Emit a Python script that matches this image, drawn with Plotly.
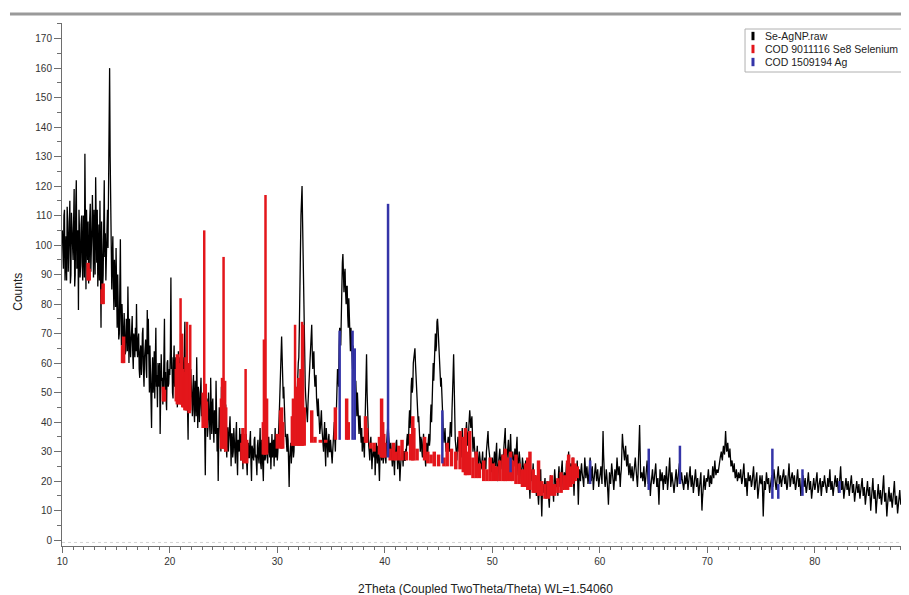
import plotly.graph_objects as go

# ---- scan parameters: two interleaved reading grids (0.1 deg apart, offset 0.05 deg) ----
scan_start = 10.0
scan_step = 0.1
half_offset = 0.05

counts_10s = [
    105, 92, 112, 96, 88, 108, 99, 115, 90, 102,
    95, 119, 90, 122, 97, 78, 104, 93, 110, 88,
    100, 131, 85, 98, 108, 92, 114, 96, 117, 89,
    101, 123, 94, 86, 107, 115, 72, 98, 90, 122,
    104, 95, 112, 124, 160, 105, 85, 103, 78, 88,
    99, 72, 80, 70, 102, 66, 75, 62, 70, 64,
    74, 86, 60, 70, 67, 76, 58, 68, 72, 80,
    62, 70, 55, 66, 60, 72, 52, 64, 58, 78,
    75, 50, 58, 38, 62, 54, 48, 72, 56, 60,
    52, 36, 63, 55, 50, 75, 57, 44, 61, 53]
counts_20s = [
    56, 89, 62, 48, 66, 55, 60, 45, 64, 52,
    58, 47, 62, 53, 74, 44, 55, 34, 60, 50,
    52, 42, 56, 40, 48, 62, 38, 50, 44, 55,
    46, 38, 52, 22, 44, 35, 50, 40, 55, 36,
    48, 33, 42, 54, 30, 20, 45, 38, 52, 34,
    40, 30, 46, 28, 38, 33, 42, 25, 36, 30,
    34, 26, 40, 22, 32, 38, 27, 35, 24, 33,
    30, 36, 22, 33, 28, 37, 20, 31, 27, 35,
    29, 22, 34, 26, 38, 24, 30, 20, 33, 28,
    31, 26, 35, 28, 24, 36, 30, 25, 38, 29]
counts_30s = [
    27, 33, 45, 60, 69, 55, 52, 40, 36, 30,
    34, 18, 30, 26, 32, 28, 38, 35, 45, 55,
    62, 80, 110, 120, 95, 70, 52, 45, 40, 50,
    60, 68, 73, 58, 64, 52, 56, 45, 48, 40,
    38, 44, 35, 30, 40, 25, 33, 28, 36, 30,
    32, 26, 34, 40, 30, 45, 58, 52, 72, 66,
    88, 97, 84, 92, 80, 86, 72, 76, 64, 68,
    58, 62, 48, 54, 42, 46, 36, 42, 33, 30,
    35, 28, 45, 63, 40, 32, 27, 35, 24, 30,
    28, 22, 33, 26, 30, 20, 31, 27, 33, 28]
counts_40s = [
    30, 26, 35, 40, 33, 28, 30, 25, 32, 22,
    29, 34, 24, 30, 20, 27, 33, 25, 30, 27,
    30, 36, 33, 44, 42, 55, 52, 62, 65, 55,
    50, 40, 38, 30, 34, 28, 36, 30, 25, 33,
    30, 36, 34, 46, 50, 60, 58, 70, 66, 75,
    68, 62, 52, 48, 38, 33, 38, 30, 28, 35,
    30, 40, 35, 48, 63, 38, 32, 27, 35, 30,
    33, 28, 38, 30, 25, 35, 40, 32, 37, 44,
    38, 42, 30, 35, 28, 24, 32, 22, 30, 26,
    25, 30, 21, 28, 24, 33, 37, 30, 27, 23]
counts_50s = [
    28, 22, 30, 25, 33, 20, 27, 31, 24, 29,
    26, 32, 38, 24, 29, 34, 22, 36, 27, 30,
    25, 31, 28, 35, 22, 30, 26, 20, 28, 24,
    21, 27, 18, 25, 22, 14, 24, 20, 26, 17,
    22, 15, 20, 12, 18, 24, 8, 19, 16, 21,
    14, 20, 17, 11, 22, 16, 19, 13, 24, 18,
    20, 15, 25, 18, 22, 27, 17, 23, 20, 26,
    22, 30, 20, 26, 24, 28, 15, 25, 22, 27,
    12, 24, 20, 26, 22, 18, 28, 21, 25, 19,
    23, 28, 20, 25, 17, 22, 26, 20, 24, 18]
counts_60s = [
    21, 25, 19, 37, 22, 18, 24, 20, 12, 23,
    19, 26, 21, 17, 24, 20, 28, 22, 25, 18,
    24, 36, 30, 27, 32, 25, 29, 22, 26, 21,
    25, 20, 24, 28, 22, 18, 26, 39, 21, 23,
    20, 25, 18, 22, 27, 19, 23, 15, 21, 24,
    19, 22, 26, 18, 21, 12, 24, 20, 23, 17,
    22, 19, 25, 17, 21, 28, 18, 23, 20, 16,
    21, 24, 18, 22, 26, 19, 23, 20, 17, 22,
    19, 23, 17, 21, 25, 18, 22, 16, 20, 24,
    18, 21, 15, 20, 23, 10, 19, 22, 17, 21]
counts_70s = [
    20, 24, 18, 22, 19, 25, 21, 27, 22, 24,
    23, 26, 28, 30, 27, 32, 29, 37, 30, 33,
    28, 31, 25, 27, 23, 26, 21, 24, 20, 23,
    21, 24, 19, 22, 26, 18, 21, 15, 23, 20,
    22, 18, 21, 25, 17, 20, 23, 14, 19, 22,
    19, 22, 8, 20, 17, 23, 19, 21, 16, 20,
    22, 18, 24, 20, 17, 21, 25, 19, 22, 18,
    21, 24, 19, 22, 17, 20, 26, 18, 21, 23,
    19, 22, 17, 20, 24, 18, 21, 15, 20, 22,
    18, 21, 16, 19, 23, 17, 20, 14, 19, 21]
counts_80s = [
    17, 20, 23, 16, 19, 21, 15, 20, 18, 22,
    19, 16, 21, 18, 24, 17, 20, 15, 19, 22,
    18, 21, 16, 19, 25, 17, 20, 14, 18, 21,
    17, 20, 15, 19, 22, 16, 19, 13, 18, 20,
    16, 19, 14, 18, 21, 15, 18, 12, 17, 20,
    15, 18, 10, 17, 21, 14, 17, 9, 16, 19,
    14, 17, 12, 16, 22, 13, 16, 8, 15, 18,
    13, 16, 11, 15, 20, 12, 15, 9, 14, 17,
    12, 15, 10, 14, 18, 11, 14, 7, 13, 16]

# ---- counts read at the in-between angles 10.05, 10.15, 10.25 ... ----
half_10s = [
    94, 110, 88, 103, 113, 91, 106, 87, 111, 96,
    108, 86, 113, 92, 105, 112, 89, 107, 94, 110,
    89, 104, 112, 95, 87, 109, 91, 106, 93, 112,
    90, 106, 112, 95, 88, 98, 108, 85, 110, 96,
    88, 110, 99, 142, 130, 93, 96, 86, 95, 79,
    82, 90, 68, 86, 75, 80, 66, 77, 63, 75,
    64, 72, 75, 62, 74, 63, 70, 62, 64, 66,
    68, 58, 64, 56, 70, 57, 62, 68, 55, 63,
    58, 66, 48, 56, 50, 64, 60, 52, 45, 58,
    60, 48, 54, 46, 62, 50, 48, 60, 52, 58]
half_20s = [
    64, 58, 50, 60, 52, 62, 48, 58, 50, 62,
    50, 58, 46, 60, 50, 56, 44, 54, 46, 58,
    46, 52, 44, 54, 42, 48, 52, 40, 50, 42,
    40, 46, 36, 42, 48, 38, 44, 34, 42, 46,
    38, 44, 36, 42, 38, 34, 40, 30, 42, 36,
    34, 40, 32, 38, 30, 40, 34, 36, 28, 38,
    30, 36, 28, 34, 30, 28, 36, 30, 34, 28,
    34, 26, 32, 28, 34, 26, 32, 28, 34, 28,
    26, 32, 28, 32, 26, 34, 26, 32, 27, 34,
    26, 32, 30, 33, 30, 28, 34, 30, 28, 33]
half_30s = [
    30, 40, 54, 66, 62, 48, 44, 35, 32, 36,
    26, 28, 33, 30, 36, 30, 33, 42, 50, 60,
    72, 98, 116, 108, 82, 60, 48, 40, 46, 56,
    66, 72, 64, 62, 56, 54, 48, 42, 44, 36,
    42, 38, 32, 36, 30, 38, 30, 34, 30, 34,
    28, 30, 38, 34, 38, 52, 56, 66, 70, 82,
    94, 88, 90, 84, 86, 76, 82, 68, 72, 62,
    66, 54, 52, 48, 50, 40, 42, 36, 38, 34,
    31, 38, 56, 50, 36, 30, 33, 30, 28, 32,
    32, 27, 30, 32, 25, 28, 30, 32, 26, 33]
half_40s = [
    28, 32, 38, 36, 30, 33, 28, 30, 26, 30,
    33, 28, 29, 26, 24, 31, 29, 30, 27, 31,
    34, 32, 40, 38, 52, 50, 60, 64, 60, 50,
    46, 42, 34, 35, 30, 33, 33, 28, 30, 29,
    34, 32, 42, 40, 56, 54, 66, 64, 74, 72,
    66, 58, 55, 42, 36, 37, 33, 32, 33, 31,
    36, 38, 44, 56, 46, 34, 30, 32, 32, 35,
    30, 34, 34, 28, 32, 37, 36, 36, 41, 41,
    40, 36, 33, 31, 26, 29, 27, 27, 28, 24,
    27, 24, 26, 25, 30, 35, 32, 28, 24, 27]
half_50s = [
    24, 27, 28, 30, 24, 25, 29, 27, 28, 27,
    30, 35, 30, 27, 33, 27, 31, 30, 29, 27,
    28, 29, 32, 26, 27, 28, 23, 24, 26, 23,
    24, 22, 22, 24, 17, 20, 22, 23, 20, 20,
    18, 17, 15, 16, 21, 14, 15, 17, 19, 17,
    18, 19, 14, 17, 19, 18, 16, 20, 21, 19,
    17, 22, 21, 20, 24, 21, 20, 22, 23, 22,
    27, 24, 23, 25, 26, 20, 21, 24, 24, 19,
    19, 22, 24, 23, 20, 24, 25, 23, 22, 21,
    25, 24, 23, 21, 20, 24, 23, 22, 21, 20]
half_60s = [
    23, 22, 28, 29, 20, 21, 22, 16, 18, 21,
    22, 24, 19, 20, 22, 24, 25, 23, 21, 22,
    30, 33, 28, 30, 28, 27, 25, 24, 23, 23,
    22, 22, 26, 25, 20, 22, 32, 30, 22, 21,
    23, 21, 20, 25, 23, 21, 19, 18, 23, 21,
    20, 24, 22, 19, 16, 18, 22, 21, 20, 20,
    21, 22, 21, 19, 25, 23, 20, 21, 18, 19,
    22, 21, 20, 24, 22, 21, 21, 18, 19, 20,
    21, 20, 19, 23, 21, 20, 19, 18, 22, 21,
    19, 18, 17, 21, 16, 14, 20, 19, 19, 20]
half_70s = [
    22, 21, 20, 20, 22, 23, 24, 24, 23, 23,
    24, 27, 29, 28, 30, 30, 33, 33, 31, 30,
    29, 28, 26, 25, 24, 23, 22, 22, 21, 22,
    22, 21, 20, 24, 22, 19, 18, 19, 21, 21,
    20, 19, 23, 21, 18, 21, 18, 16, 20, 20,
    20, 15, 14, 18, 20, 21, 20, 18, 18, 21,
    20, 21, 22, 18, 19, 23, 22, 20, 20, 20,
    22, 21, 20, 19, 18, 23, 22, 19, 22, 21,
    20, 19, 18, 22, 21, 19, 18, 17, 21, 20,
    19, 18, 17, 21, 20, 18, 17, 16, 20, 19]
half_80s = [
    18, 21, 19, 17, 20, 18, 17, 19, 20, 20,
    17, 18, 19, 21, 20, 18, 17, 17, 20, 20,
    19, 18, 17, 22, 21, 18, 17, 16, 19, 19,
    18, 17, 17, 20, 19, 17, 16, 15, 19, 18,
    17, 16, 16, 19, 18, 16, 15, 14, 18, 17,
    16, 14, 13, 19, 17, 15, 13, 12, 17, 16,
    15, 14, 14, 19, 17, 14, 12, 11, 16, 15,
    14, 13, 13, 17, 16, 13, 12, 11, 15, 14,
    13, 12, 12, 16, 14, 12, 11, 10, 14, 13]

# ---- COD 9011116 Se8 Selenium reference: strong sticks ----
se_main_pos = [21.0, 21.6, 21.9, 23.2, 25.0, 27.05, 28.9, 31.65, 32.3, 32.4]
se_main_foot = [46, 44, 44, 38, 31, 27, 29, 32, 32, 32]
se_main_top = [82, 74, 73, 105, 96, 58, 117, 73, 74, 73]

# ---- COD 9011116 Se8 Selenium reference: weak sticks (dense band) ----
se_pos = [12.4, 12.5, 13.7, 13.8, 15.6, 15.7, 19.4, 19.5,
          20.6, 20.7, 20.8, 20.9, 21.1, 21.2, 21.3, 21.4, 21.5, 21.7, 21.8,
          23.1, 23.3, 23.4, 24.8, 24.9, 25.1, 25.2,
          26.7, 26.8, 26.9, 27.15, 28.7, 28.8, 29.0,
          30.0, 30.3, 30.4, 30.5, 31.4, 31.5, 31.8, 31.9, 32.0, 32.1, 32.2, 32.5,
          33.2, 33.5, 34.0, 34.5, 35.4, 36.45, 36.6, 38.2, 38.3, 38.7, 39.0, 39.5, 39.7, 39.8, 39.9, 40.0,
          40.5, 40.8, 41.0, 41.3, 41.6, 42.0, 42.4, 42.6, 42.7, 43.0, 43.7, 44.0, 44.3, 44.6, 45.0,
          45.5, 45.8, 46.2, 46.6, 47.0, 47.3, 47.5, 47.6, 47.9, 48.2, 48.5, 48.8, 49.2, 49.5, 49.8,
          50.1, 50.4, 50.7, 51.0, 51.2, 51.4, 51.7, 51.9, 52.2, 52.5, 52.8, 53.1, 53.3, 53.5, 53.8,
          54.0, 54.3, 54.6, 54.9, 55.2, 55.5, 55.8, 56.1, 56.4, 56.7, 57.0, 57.1, 57.3, 57.5, 57.7, 57.9]
se_foot = [88, 88, 80, 80, 60, 60, 47, 47,
           47, 46, 47, 46, 46, 45, 45, 44, 44, 44, 43,
           38, 38, 38, 31, 31, 31, 30,
           27, 27, 26, 26, 29, 29, 29,
           31, 31, 31, 31, 32, 32, 32, 32, 32, 32, 32, 32,
           33, 33, 33, 33, 34, 34, 34, 33, 33, 31, 30, 29, 28, 28, 28, 28,
           27, 27, 27, 27, 27, 27, 27, 27, 27, 27, 27, 26, 26, 25, 25,
           25, 25, 25, 24, 24, 23, 22, 22, 22, 21, 21, 21, 20, 20, 20,
           20, 20, 20, 20, 20, 20, 20, 20, 19, 19, 18, 18, 17, 17, 16,
           16, 15, 15, 14, 14, 15, 15, 16, 16, 17, 17, 18, 18, 19, 20, 21]
se_top = [94, 92, 85, 87, 66, 69, 52, 51,
          58, 63, 60, 55, 70, 58, 55, 57, 62, 60, 56,
          50, 53, 47, 48, 55, 54, 45,
          33, 38, 36, 34, 40, 68, 48,
          36, 44, 45, 40, 42, 48, 52, 45, 55, 50, 58, 45,
          44, 35, 34, 34, 45, 48, 40, 42, 38, 33, 33, 35, 48, 40, 36, 33,
          31, 33, 30, 32, 34, 30, 36, 42, 38, 31, 35, 30, 29, 30, 29,
          28, 33, 31, 30, 37, 35, 38, 30, 37, 28, 30, 26, 27, 24, 28,
          26, 25, 27, 29, 31, 28, 30, 27, 29, 26, 24, 26, 28, 30, 24,
          22, 27, 20, 19, 20, 22, 19, 21, 23, 22, 27, 29, 25, 28, 26, 25]

# ---- COD 1509194 Ag reference sticks ----
ag_pos = [35.8, 37.0, 37.2, 40.3, 45.35, 51.7, 59.1, 64.55, 67.45, 76.05, 76.6, 78.85, 82.3]
ag_foot = [34, 34, 34, 28, 26, 23, 19, 17, 19, 14, 14, 15, 16]
ag_top = [71, 71, 65, 114, 44, 28, 27, 31, 32, 31, 19, 24, 20]

# ---- axis ticks ----
x_ticks = [10, 20, 30, 40, 50, 60, 70, 80]
y_ticks = list(range(0, 171, 10))

legend_names = ["Se-AgNP.raw", "COD 9011116 Se8 Selenium", "COD 1509194 Ag"]
legend_colors = ["#000000", "#e3161b", "#3434a8"]

counts_main = counts_10s + counts_20s + counts_30s + counts_40s + counts_50s + counts_60s + counts_70s + counts_80s
counts_half = half_10s + half_20s + half_30s + half_40s + half_50s + half_60s + half_70s + half_80s
theta_main = [round(scan_start + i * scan_step, 3) for i in range(len(counts_main))]
theta_half = [round(scan_start + half_offset + i * scan_step, 3) for i in range(len(counts_half))]
merged = sorted(zip(theta_main + theta_half, counts_main + counts_half))
two_theta = [m[0] for m in merged]
counts = [m[1] for m in merged]


def sticks(pos, foot, top):
    xs, ys = [], []
    for p, a, b in zip(pos, foot, top):
        xs += [p, p, None]
        ys += [a, b, None]
    return xs, ys


fig = go.Figure()
fig.add_trace(go.Scatter(x=two_theta, y=counts, mode="lines",
                         line=dict(color=legend_colors[0], width=1.3), name=legend_names[0]))
sx, sy = sticks(se_pos, se_foot, se_top)
fig.add_trace(go.Scatter(x=sx, y=sy, mode="lines",
                         line=dict(color=legend_colors[1], width=3.5), name=legend_names[1]))
mx, my = sticks(se_main_pos, se_main_foot, se_main_top)
fig.add_trace(go.Scatter(x=mx, y=my, mode="lines",
                         line=dict(color=legend_colors[1], width=2.5), name=legend_names[1]))
ax, ay = sticks(ag_pos, ag_foot, ag_top)
fig.add_trace(go.Scatter(x=ax, y=ay, mode="lines",
                         line=dict(color=legend_colors[2], width=2.5), name=legend_names[2]))

font_family = "Liberation Sans, Arial, sans-serif"
axis_grey = "#6e6e6e"

# the page body adds an 8 px offset, so the figure is 8 px smaller and margins shifted
fig.update_layout(
    width=901, height=587,
    margin=dict(l=54, r=0, t=15, b=49, autoexpand=False),
    plot_bgcolor="white", paper_bgcolor="white",
    showlegend=False,
    font=dict(family=font_family, color="#333333"),
    xaxis=dict(range=[9.97, 88.76], tickvals=x_ticks, ticks="outside", ticklen=6,
               tickcolor=axis_grey, showline=True, linecolor=axis_grey, linewidth=1,
               showgrid=False, zeroline=False, tickfont=dict(size=10, color="#333333"),
               automargin=False,
               minor=dict(dtick=1, tick0=10, ticks="outside", ticklen=3, tickcolor=axis_grey)),
    yaxis=dict(range=[-2, 175.3], tickvals=y_ticks, ticks="outside", ticklen=7,
               tickcolor=axis_grey, showline=True, linecolor=axis_grey, linewidth=1,
               showgrid=False, zeroline=False, tickfont=dict(size=10, color="#333333"),
               automargin=False,
               minor=dict(dtick=5, tick0=0, ticks="outside", ticklen=4, tickcolor=axis_grey)),
)

# top separator bar
fig.add_shape(type="line", xref="paper", yref="paper", x0=-0.0614, x1=1.0, y0=1.0172, y1=1.0172,
              line=dict(color="#9a9a9a", width=3))

# faint dotted baseline just above the x axis
fig.add_shape(type="line", xref="paper", yref="y", x0=0, x1=1, y0=-0.8, y1=-0.8,
              line=dict(color="#d4d4d4", width=1, dash="dot"), layer="below")

# axis titles
fig.add_annotation(text="2Theta (Coupled TwoTheta/Theta) WL=1.54060", xref="paper", yref="paper",
                   x=0.5, y=-0.082, showarrow=False, font=dict(size=12, color="#222222"),
                   xanchor="center", yanchor="middle")
fig.add_annotation(text="Counts", xref="paper", yref="paper", x=-0.052, y=0.486, textangle=-90,
                   showarrow=False, font=dict(size=12, color="#222222"), xanchor="center", yanchor="middle")

# legend box
fig.add_shape(type="rect", xref="paper", yref="paper", x0=0.8064, x1=1.01, y0=0.9063, y1=0.9885,
              line=dict(color="#b0b0b0", width=1), fillcolor="white", layer="above")
row_y = [0.9751, 0.9503, 0.9254]
for name, col, yy in zip(legend_names, legend_colors, row_y):
    fig.add_shape(type="line", xref="paper", yref="paper", x0=0.8158, x1=0.8158,
                  y0=yy - 0.008, y1=yy + 0.008, line=dict(color=col, width=3), layer="above")
    fig.add_annotation(text=name, xref="paper", yref="paper", x=0.8276, y=yy, showarrow=False,
                       xanchor="left", yanchor="middle", font=dict(size=10.5, color="#222222"))

fig.write_html("out.html")
